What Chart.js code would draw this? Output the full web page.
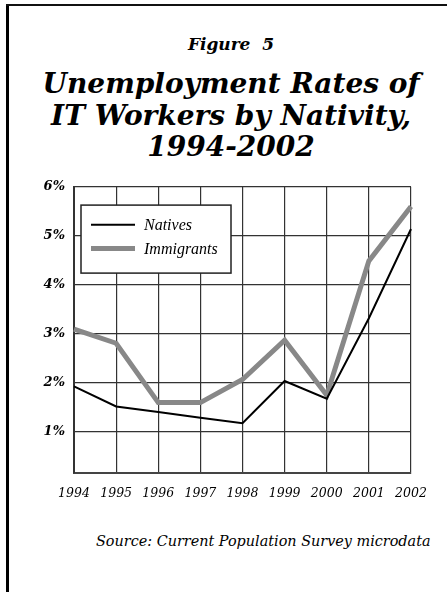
<!DOCTYPE html>
<html>
<head>
<meta charset="utf-8">
<script src="https://cdn.jsdelivr.net/npm/chart.js@4.4.1/dist/chart.umd.min.js"></script>
<style>
    html, body { margin: 0; padding: 0; background: #fff; }
    body { width: 447px; height: 592px; position: relative; overflow: hidden; }
    .edge { position: absolute; background: #000; }
    #edge-left { left: 6px; top: 4px; width: 3px; height: 588px; }
    #edge-top { left: 6px; top: 4px; width: 441px; height: 2px; background: #111; }
    .title {
        position: absolute; left: 0; width: 462px; text-align: center;
        font-family: "DejaVu Serif", serif; font-style: italic; font-weight: bold; color: #000;
    }
    #fig { top: 36px; font-size: 17px; line-height: 17px; white-space: pre; }
    #main { top: 68px; font-size: 28px; line-height: 31.5px; }
    #source {
        position: absolute; left: 96px; top: 534px; font-family: "DejaVu Serif", serif;
        font-style: italic; font-size: 14.4px; line-height: 14px; color: #000; white-space: nowrap;
    }
    #chart-box { position: absolute; left: 0; top: 170px; width: 447px; height: 340px; }
</style>
</head>
<body>
<div class="edge" id="edge-left"></div>
<div class="edge" id="edge-top"></div>
<div class="title" id="fig">Figure  5</div>
<div class="title" id="main">Unemployment Rates of<br>IT Workers by Nativity,<br>1994-2002</div>
<div id="chart-box"><canvas id="lineChart"></canvas></div>
<div id="source">Source: Current Population Survey microdata</div>

<script>
// Data (percent)
const years = ['1994', '1995', '1996', '1997', '1998', '1999', '2000', '2001', '2002'];
const natives = [1.93, 1.52, 1.41, 1.29, 1.18, 2.04, 1.68, 3.32, 5.14];
const immigrants = [3.10, 2.81, 1.60, 1.60, 2.07, 2.87, 1.75, 4.49, 5.60];
const yTicks = [1, 2, 3, 4, 5, 6];

// Boxed legend drawn inside the plot, top-left
const boxLegend = {
    id: 'boxLegend',
    afterDraw(chart) {
        const ctx = chart.ctx;
        const area = chart.chartArea;
        const x = area.left + 7, y = area.top + 18.3;
        ctx.save();
        ctx.fillStyle = '#fff';
        ctx.fillRect(x, y, 150, 68);
        ctx.strokeStyle = '#222';
        ctx.lineWidth = 1.5;
        ctx.strokeRect(x, y, 150, 68);
        const rows = [y + 19.7, y + 43.4];
        chart.data.datasets.forEach((ds, i) => {
            ctx.strokeStyle = ds.borderColor;
            ctx.lineWidth = ds.borderWidth;
            ctx.beginPath();
            ctx.moveTo(x + 10, rows[i]);
            ctx.lineTo(x + 54, rows[i]);
            ctx.stroke();
            ctx.fillStyle = '#000';
            ctx.font = 'italic 16px "Liberation Serif"';
            ctx.textBaseline = 'middle';
            ctx.fillText(ds.label, x + 63, rows[i] + 1);
        });
        ctx.restore();
    }
};

new Chart(document.getElementById('lineChart').getContext('2d'), {
    type: 'line',
    data: {
        labels: years,
        datasets: [
            {
                label: 'Natives',
                data: natives,
                borderColor: '#000',
                borderWidth: 2,
                pointRadius: 0,
                tension: 0
            },
            {
                label: 'Immigrants',
                data: immigrants,
                borderColor: '#888',
                borderWidth: 5,
                pointRadius: 0,
                tension: 0
            }
        ]
    },
    options: {
        responsive: true,
        maintainAspectRatio: false,
        animation: false,
        layout: { padding: { top: 16, right: 36, left: 0, bottom: 0 } },
        plugins: {
            legend: { display: false },
            tooltip: { enabled: false }
        },
        scales: {
            x: {
                type: 'category',
                offset: false,
                grid: { color: '#333', lineWidth: 1.2, drawTicks: false },
                border: { color: '#444', width: 2 },
                ticks: {
                    autoSkip: false,
                    maxRotation: 0,
                    padding: 14,
                    color: '#000',
                    font: { family: 'DejaVu Serif', style: 'italic', size: 12.5 }
                },
                afterFit: function (scale) { scale.height = 37.3; }
            },
            y: {
                min: 0.17,
                max: 6,
                grid: { color: '#333', lineWidth: 1.2, drawTicks: false },
                border: { color: '#333', width: 2 },
                afterBuildTicks: function (scale) {
                    scale.ticks = yTicks.map(v => ({ value: v }));
                },
                ticks: {
                    padding: 9,
                    color: '#000',
                    font: { family: 'DejaVu Serif', style: 'italic', weight: 'bold', size: 13 },
                    callback: function (value) { return value + '%'; }
                },
                afterFit: function (scale) { scale.width = 74; }
            }
        }
    },
    plugins: [boxLegend]
});
</script>
</body>
</html>
